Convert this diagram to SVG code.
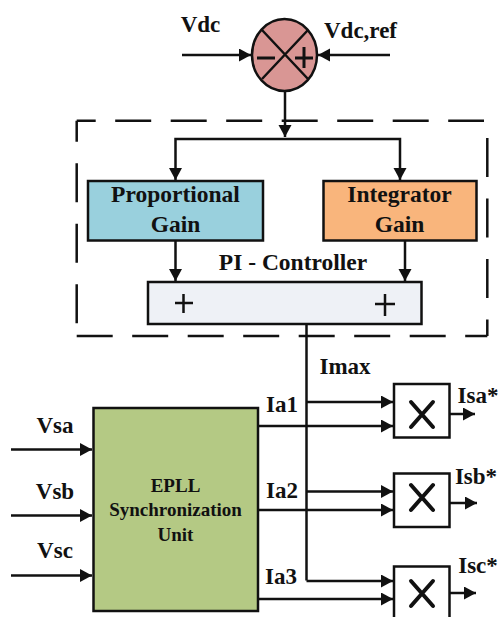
<svg xmlns="http://www.w3.org/2000/svg" width="498" height="617" viewBox="0 0 498 617">
<style>
text{font-family:"Liberation Serif",serif;font-weight:bold;fill:#111;text-anchor:middle}
.l{font-size:23px}
.n{font-size:23.500px}
.e{font-size:19px}
.box{stroke:#111;stroke-width:2.5}
.c{fill:none;stroke:#111;stroke-width:2.5}
.d{fill:none;stroke:#111;stroke-width:2.5;stroke-dasharray:36 19.500}
.v{fill:none;stroke:#111;stroke-width:2.5;stroke-dasharray:39 21.500}
.a{fill:none;stroke:#111;stroke-width:2.5;marker-end:url(#ah)}
.x{fill:none;stroke:#111;stroke-width:4;stroke-linecap:round}
.t{fill:none;stroke:#111;stroke-width:2.5}
</style>
<defs>
<marker id="ah" markerUnits="userSpaceOnUse" markerWidth="13" markerHeight="14" refX="12" refY="6.500" orient="auto"><path d="M0 0L12 6.500L0 13Z" fill="#111"/></marker>
</defs>
<rect width="498" height="617" fill="#fff"/>
<g id="connectors">
<path class="d" stroke-dashoffset="17" d="M76.700 120.700H484"/>
<path class="d" d="M76.700 336H487.300"/>
<path class="v" stroke-dashoffset="18" d="M76.700 120.700V325"/>
<path class="v" d="M487.300 138V336"/>
<path class="a" d="M182 55H251"/>
<path class="a" d="M390 55H318"/>
<path class="a" d="M285 91V137"/>
<path class="a" d="M285 139H175.500V180"/>
<path class="a" d="M285 139H400V180"/>
<path class="a" d="M175.500 241V281"/>
<path class="a" d="M405 241V281"/>
<path class="c" d="M306.500 325V580.500"/>
<path class="a" d="M306.500 402H393"/>
<path class="a" d="M258 426H393"/>
<path class="a" d="M306.500 491.500H393"/>
<path class="a" d="M258 510H393"/>
<path class="a" d="M306.500 581H393"/>
<path class="a" d="M258 599H393"/>
<path class="a" d="M450 414H475"/>
<path class="a" d="M450 503H477"/>
<path class="a" d="M450 593H476"/>
<path class="a" d="M11 449.500H92"/>
<path class="a" d="M11 515.500H92"/>
<path class="a" d="M11 575.500H92"/>
</g>
<g id="sum">
<ellipse class="box" cx="284.500" cy="55" rx="32.500" ry="36" fill="#d99694"/>
<path class="c" d="M262 30L308 79M308 30L262 79"/>
<path class="t" d="M257 58H275M295 58H313M304 47V68" style="stroke-width:3"/>
</g>
<g id="proportional">
<rect class="box" x="88" y="181" width="175" height="59.500" fill="#99d0dd"/>
<text class="n" x="175.500" y="202">Proportional</text>
<text class="n" x="175.500" y="232">Gain</text>
</g>
<g id="integrator">
<rect class="box" x="323.500" y="181" width="153" height="59.500" fill="#f9b57c"/>
<text class="n" x="399.500" y="202">Integrator</text>
<text class="n" x="399.500" y="232">Gain</text>
</g>
<g id="pi-sum">
<rect class="box" x="148" y="282" width="273.500" height="42" fill="#eef1f6"/>
<path class="t" d="M175 303H193M183.500 294V313M375 304H395M385 294V316"/>
</g>
<g id="epll">
<rect class="box" x="93.500" y="408" width="164.500" height="203" fill="#b4c984"/>
<text class="e" x="175.500" y="492">EPLL</text>
<text class="e" x="175.500" y="516">Synchronization</text>
<text class="e" x="175.500" y="541">Unit</text>
</g>
<g id="mult-a">
<rect class="box" x="394" y="384" width="55.500" height="53.500" fill="#fff"/>
<path class="x" d="M411 402L433 427M433 402L411 427"/>
</g>
<g id="mult-b">
<rect class="box" x="394" y="473.500" width="55.500" height="53.500" fill="#fff"/>
<path class="x" d="M411 485L433 510M433 485L411 510"/>
</g>
<g id="mult-c">
<rect class="box" x="394" y="566.500" width="55.500" height="53.500" fill="#fff"/>
<path class="x" d="M411 581L433 606M433 581L411 606"/>
</g>
<g id="labels">
<text class="l" x="200.500" y="32">Vdc</text>
<text class="l" x="360.500" y="38">Vdc,ref</text>
<text class="n" x="293" y="270">PI - Controller</text>
<text class="l" x="345" y="374">Imax</text>
<text class="l" x="282" y="412">Ia1</text>
<text class="l" x="282" y="498">Ia2</text>
<text class="l" x="281" y="584">Ia3</text>
<text class="l" x="478" y="403">Isa*</text>
<text class="l" x="476" y="484">Isb*</text>
<text class="l" x="478" y="573">Isc*</text>
<text class="l" x="55" y="433">Vsa</text>
<text class="l" x="55" y="499">Vsb</text>
<text class="l" x="55" y="558">Vsc</text>
</g>
</svg>
